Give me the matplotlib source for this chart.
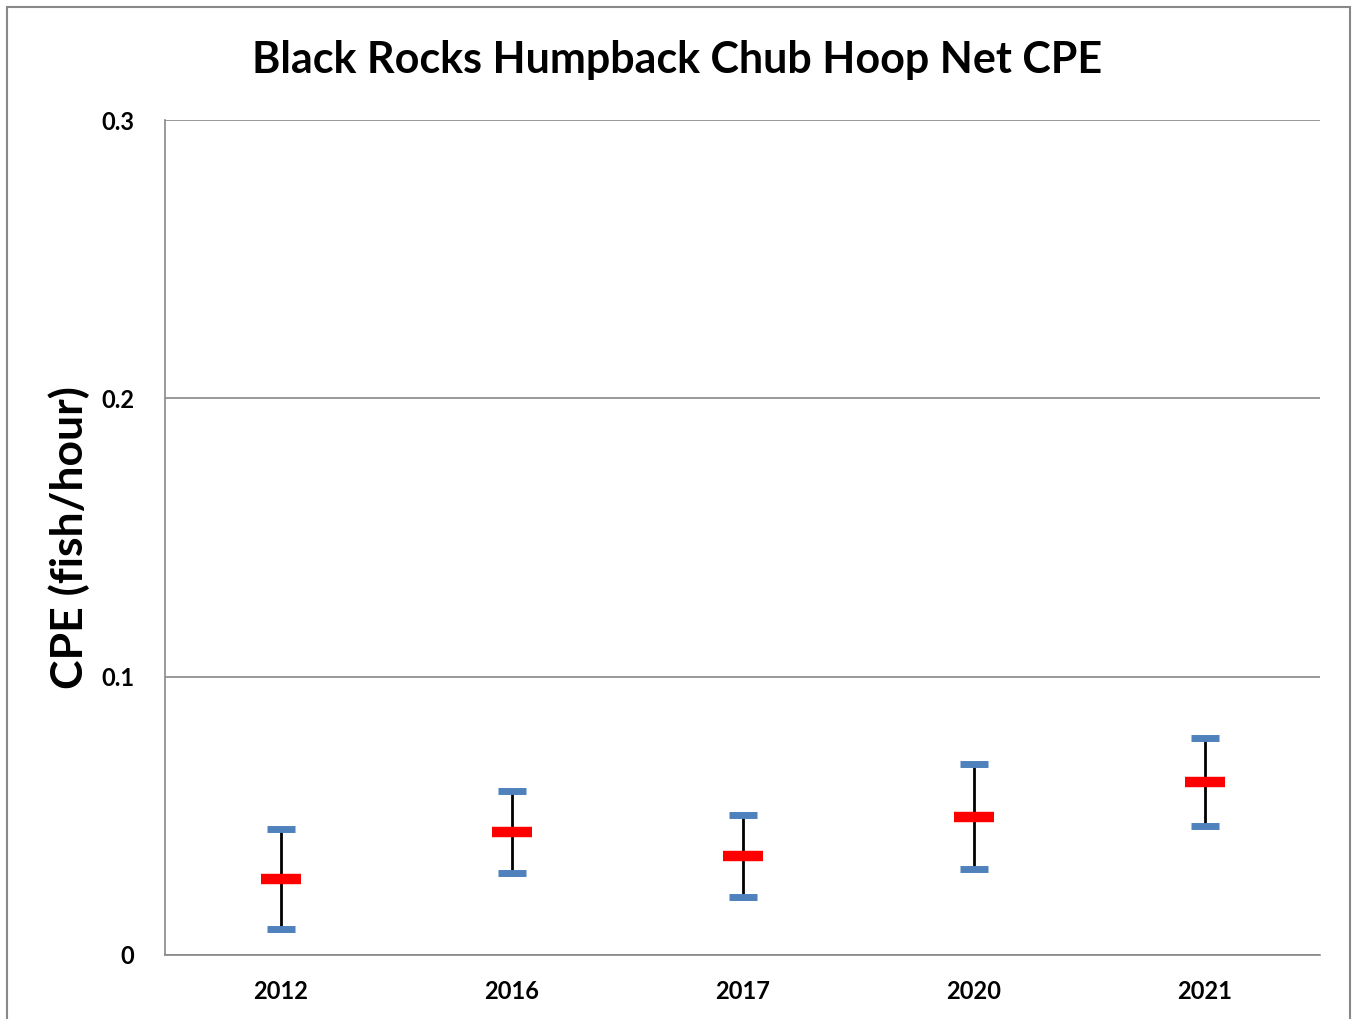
import matplotlib.pyplot as plt
from matplotlib.patches import Rectangle

# data
years = ["2012", "2016", "2017", "2020", "2021"]
cpe_mean = [0.0273, 0.0442, 0.0356, 0.0496, 0.0622]
cpe_upper = [0.0453, 0.0589, 0.0503, 0.0686, 0.0780]
cpe_lower = [0.0093, 0.0295, 0.0208, 0.0309, 0.0464]

plt.rcParams['font.family'] = ['Lato', 'DejaVu Sans']

fig = plt.figure(figsize=(13.52, 10.19), dpi=100)
ax = fig.add_axes([165/1352, 1 - 955/1019, (1320-165)/1352, (955-120)/1019])

# outer chart border
fig.patches.append(Rectangle((7/1352, -0.05), (1350-7)/1352, 1.05 - 7/1019,
                             transform=fig.transFigure, fill=False,
                             edgecolor='#888888', linewidth=1.5))

x = list(range(len(years)))
ax.vlines(x, cpe_lower, cpe_upper, color='black', linewidth=2, zorder=2)
ax.plot(x, cpe_upper, linestyle='none', marker='_', markersize=20,
        markeredgewidth=5, color='#4F81BD', zorder=3)
ax.plot(x, cpe_lower, linestyle='none', marker='_', markersize=20,
        markeredgewidth=5, color='#4F81BD', zorder=3)
ax.plot(x, cpe_mean, linestyle='none', marker='_', markersize=29,
        markeredgewidth=7.5, color='#FF0000', zorder=4)

ax.set_xlim(-0.5, len(years) - 0.5)
ax.set_ylim(0, 0.3)
ax.set_yticks([0, 0.1, 0.2, 0.3])
ax.set_yticklabels(["0", "0.1", "0.2", "0.3"])
ax.set_xticks(x)
ax.set_xticklabels(years)
ax.yaxis.grid(True, color='#888888', linewidth=1.2)
ax.set_axisbelow(True)
for s in ['top', 'right']:
    ax.spines[s].set_visible(False)
for s in ['left', 'bottom']:
    ax.spines[s].set_color('#888888')
    ax.spines[s].set_linewidth(1.2)
ax.tick_params(axis='both', length=0, labelsize=17)
ax.tick_params(axis='x', pad=18)
ax.tick_params(axis='y', pad=22)
for lab in ax.get_xticklabels() + ax.get_yticklabels():
    lab.set_fontweight('bold')

ax.set_ylabel("CPE (fish/hour)", fontsize=32, fontweight='bold', labelpad=8)
fig.text(677/1352, 1 - 60/1019, "Black Rocks Humpback Chub Hoop Net CPE",
         ha='center', va='center', fontsize=31, fontweight='bold')

fig.savefig("out.png", dpi=100)
